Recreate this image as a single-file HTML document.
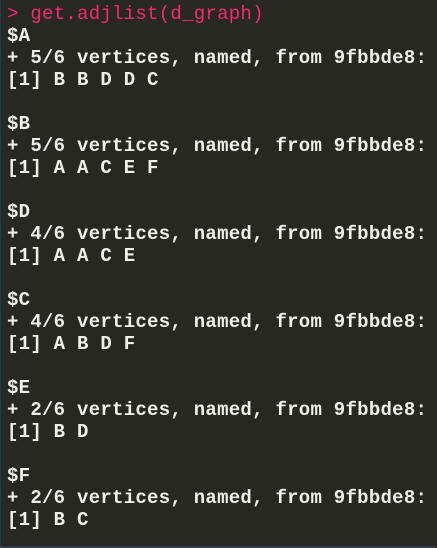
<!DOCTYPE html>
<html><head><style>
html,body{margin:0;padding:0;}
body{width:437px;height:548px;background:#272822;overflow:hidden;position:relative;}
.b{position:absolute;left:0;top:0;width:435px;height:546px;border-left:1px solid #2a3a4a;border-bottom:2px solid #2b3f55;}
pre{position:absolute;left:7px;top:3px;margin:0;font-family:"Liberation Mono",monospace;font-size:19px;font-weight:bold;letter-spacing:0.27px;line-height:22px;color:#f0f0ea;}
.p{color:#f92672;font-weight:normal;}
</style></head><body><div class="b"></div>
<pre><span class="p">&gt; get.adjlist(d_graph)</span>
$A
+ 5/6 vertices, named, from 9fbbde8:
[1] B B D D C

$B
+ 5/6 vertices, named, from 9fbbde8:
[1] A A C E F

$D
+ 4/6 vertices, named, from 9fbbde8:
[1] A A C E

$C
+ 4/6 vertices, named, from 9fbbde8:
[1] A B D F

$E
+ 2/6 vertices, named, from 9fbbde8:
[1] B D

$F
+ 2/6 vertices, named, from 9fbbde8:
[1] B C</pre>
</body></html>
